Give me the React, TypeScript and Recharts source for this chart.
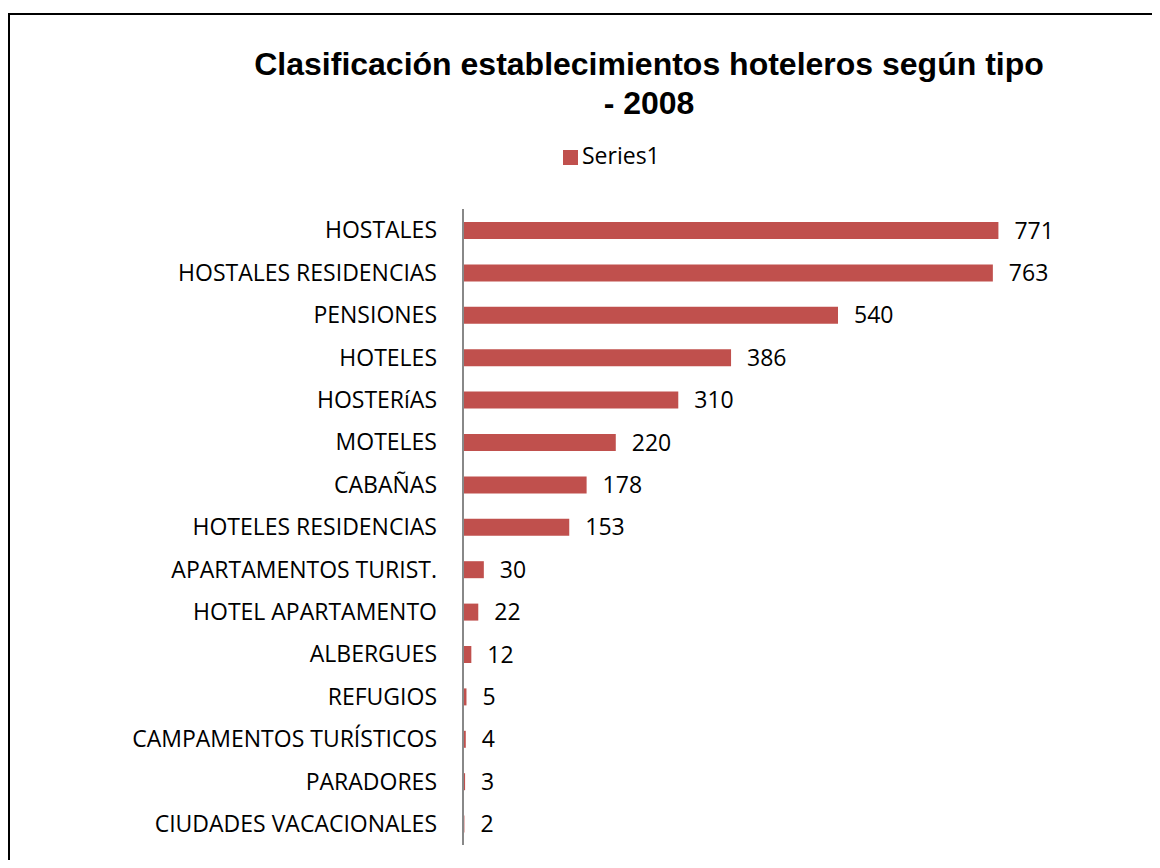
import React from 'react';
import { BarChart, Bar, XAxis, YAxis, Legend, LabelList } from 'recharts';

const categories: string[] = [
  'HOSTALES',
  'HOSTALES RESIDENCIAS',
  'PENSIONES',
  'HOTELES',
  'HOSTERíAS',
  'MOTELES ',
  'CABAÑAS',
  'HOTELES RESIDENCIAS',
  'APARTAMENTOS TURIST.',
  'HOTEL APARTAMENTO',
  'ALBERGUES',
  'REFUGIOS',
  'CAMPAMENTOS TURÍSTICOS',
  'PARADORES',
  'CIUDADES VACACIONALES',
];

const series1: number[] = [771, 763, 540, 386, 310, 220, 178, 153, 30, 22, 12, 5, 4, 3, 2];

const seriesName = 'Series1';
const titleLines: string[] = ['Clasificación establecimientos hoteleros según tipo', '- 2008'];

const data = categories.map((c, i) => ({ name: c, value: series1[i] }));

const BAR_COLOR = '#C0504D';
const FONT = '"Open Sans", sans-serif';

export default function App() {
  return (
    <div style={{ position: 'relative', width: 1160, height: 868, margin: -8, overflow: 'hidden', background: '#fff' }}>
      <div
        style={{
          position: 'absolute',
          left: 8,
          top: 13,
          right: -10,
          bottom: -10,
          borderTop: '2px solid #000',
          borderLeft: '2px solid #000',
        }}
      />
      <div
        style={{
          position: 'absolute',
          left: 199,
          top: 45.3,
          width: 900,
          textAlign: 'center',
          fontFamily: '"Liberation Sans", Arial, sans-serif',
          fontWeight: 'bold',
          fontSize: 32,
          lineHeight: '38.6px',
          color: '#000',
          whiteSpace: 'nowrap',
        }}
      >
        {titleLines[0]}
        <br />
        {titleLines[1]}
      </div>
      <div style={{ position: 'absolute', left: 0, top: 0 }}>
        <BarChart
          width={1160}
          height={868}
          data={data}
          layout="vertical"
          margin={{ top: 209, right: 72, bottom: 23, left: 0 }}
          barCategoryGap="30%"
        >
          <XAxis type="number" domain={[0, 900]} hide />
          <YAxis
            type="category"
            dataKey="name"
            width={463}
            axisLine={{ stroke: '#888888', strokeWidth: 2 }}
            tickLine={false}
            tickSize={0}
            tickMargin={26}
            interval={0}
            tick={{ fill: '#000', fontSize: 23, fontFamily: FONT }}
          />
          <Legend
            layout="horizontal"
            verticalAlign="middle"
            align="center"
            iconType="square"
            iconSize={15}
            wrapperStyle={{ top: 139, left: 563, width: 'auto', fontFamily: FONT, fontSize: 23 }}
            formatter={(v: string) => <span style={{ color: '#000' }}>{v}</span>}
          />
          <Bar dataKey="value" name={seriesName} fill={BAR_COLOR} barSize={17} isAnimationActive={false}>
            <LabelList
              dataKey="value"
              position="right"
              offset={16}
              fill="#000"
              fontSize={23}
              fontFamily={FONT}
            />
          </Bar>
        </BarChart>
      </div>
    </div>
  );
}
